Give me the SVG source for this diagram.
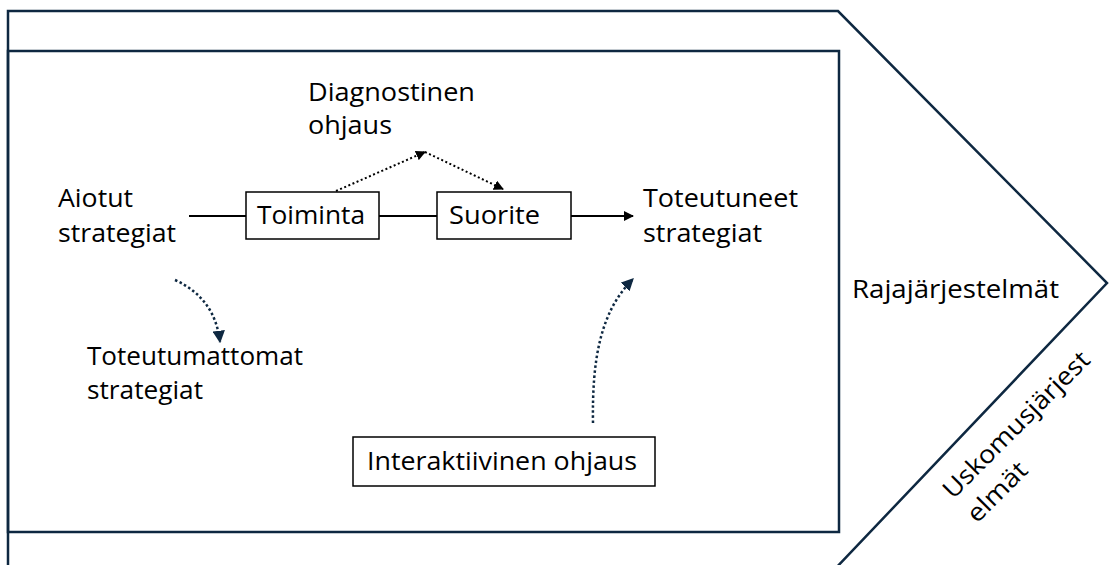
<svg xmlns="http://www.w3.org/2000/svg" width="1109" height="565" viewBox="0 0 1109 565">
  <style>
    .frame { fill: none; stroke: #0e2841; stroke-width: 2.5; }
    .box { fill: #ffffff; stroke: #000000; stroke-width: 1.5; }
    .txt { font-family: "Open Sans", "Liberation Sans", sans-serif; font-size: 25px; fill: #000000; }
    .solid { fill: none; stroke: #000000; stroke-width: 2; }
    .dotblack { fill: none; stroke: #000000; stroke-width: 2; stroke-dasharray: 2 2.5; }
    .dotnavy { fill: none; stroke: #0e2841; stroke-width: 2.5; stroke-dasharray: 2.5 2.5; }
  </style>
  <defs>
    <marker id="arrBlack" viewBox="0 0 10 10" refX="9" refY="5" markerWidth="5" markerHeight="5" markerUnits="strokeWidth" orient="auto">
      <path d="M0,0 L10,5 L0,10 z" fill="#000000"/>
    </marker>
    <marker id="arrNavy" viewBox="0 0 10 10" refX="9" refY="5" markerWidth="5" markerHeight="5" markerUnits="strokeWidth" orient="auto">
      <path d="M0,0 L10,5 L0,10 z" fill="#0e2841"/>
    </marker>
  </defs>

  <rect width="1109" height="565" fill="#ffffff"/>

  <!-- outer chevron (belief / boundary systems) and inner control area -->
  <g id="frame">
    <path class="frame" d="M8,570 L8,11 L838,11 L1107,283 L834,570"/>
    <rect class="frame" x="8" y="51" width="831" height="481"/>
  </g>

  <!-- connectors -->
  <g id="connectors">
    <line class="solid" x1="189" y1="216" x2="246" y2="216"/>
    <line class="solid" x1="379" y1="216" x2="437" y2="216"/>
    <line class="solid" x1="571" y1="216" x2="633" y2="216" marker-end="url(#arrBlack)"/>
    <line class="dotblack" x1="336" y1="191" x2="425" y2="152" marker-end="url(#arrBlack)"/>
    <line class="dotblack" x1="425" y1="152" x2="503" y2="189" marker-end="url(#arrBlack)"/>
    <path class="dotnavy" d="M175,280 Q215,298 220,342" marker-end="url(#arrNavy)"/>
    <path class="dotnavy" d="M593,423 C592,360 600,312 633,279" marker-end="url(#arrNavy)"/>
  </g>

  <g id="intended">
    <text class="txt" x="58" y="207" textLength="75" lengthAdjust="spacingAndGlyphs">Aiotut</text>
    <text class="txt" x="58" y="242" textLength="118" lengthAdjust="spacingAndGlyphs">strategiat</text>
  </g>

  <g id="action">
    <rect class="box" x="246" y="192" width="133" height="47"/>
    <text class="txt" x="257" y="224" textLength="108" lengthAdjust="spacingAndGlyphs">Toiminta</text>
  </g>

  <g id="performance">
    <rect class="box" x="437" y="192" width="134" height="47"/>
    <text class="txt" x="449" y="224" textLength="91" lengthAdjust="spacingAndGlyphs">Suorite</text>
  </g>

  <g id="realized">
    <text class="txt" x="643" y="207" textLength="155" lengthAdjust="spacingAndGlyphs">Toteutuneet</text>
    <text class="txt" x="643" y="242" textLength="119" lengthAdjust="spacingAndGlyphs">strategiat</text>
  </g>

  <g id="diagnostic">
    <text class="txt" x="308" y="101" textLength="167" lengthAdjust="spacingAndGlyphs">Diagnostinen</text>
    <text class="txt" x="308" y="134" textLength="84" lengthAdjust="spacingAndGlyphs">ohjaus</text>
  </g>

  <g id="unrealized">
    <text class="txt" x="87" y="365" textLength="216" lengthAdjust="spacingAndGlyphs">Toteutumattomat</text>
    <text class="txt" x="87" y="399" textLength="116" lengthAdjust="spacingAndGlyphs">strategiat</text>
  </g>

  <g id="interactive">
    <rect class="box" x="353" y="437" width="302" height="49"/>
    <text class="txt" x="367" y="470" textLength="270" lengthAdjust="spacingAndGlyphs">Interaktiivinen ohjaus</text>
  </g>

  <g id="boundary">
    <text class="txt" x="852" y="298" textLength="207" lengthAdjust="spacingAndGlyphs">Rajajärjestelmät</text>
  </g>

  <g id="belief">
    <text class="txt" transform="translate(953,500) rotate(-45)">
      <tspan x="0" y="0" textLength="196" lengthAdjust="spacingAndGlyphs">Uskomusjärjest</tspan>
      <tspan x="0" y="34" textLength="74" lengthAdjust="spacingAndGlyphs">elmät</tspan>
    </text>
  </g>
</svg>
